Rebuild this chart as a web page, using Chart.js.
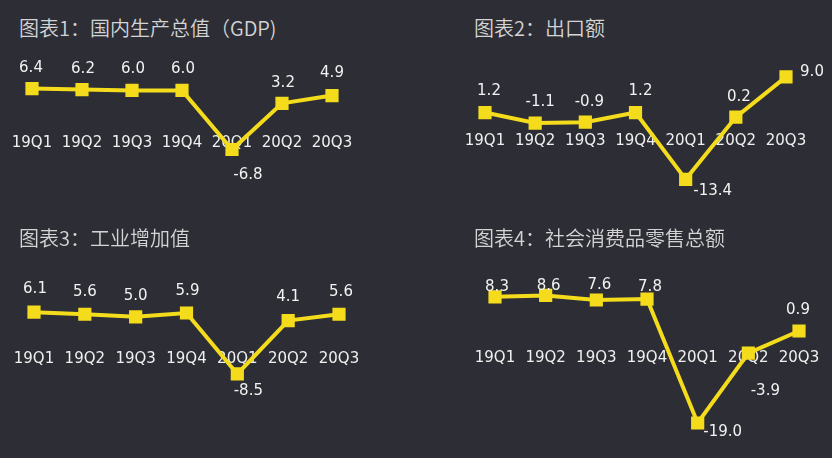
<!DOCTYPE html>
<html>
<head>
<meta charset="utf-8">
<script src="https://cdn.jsdelivr.net/npm/chart.js@4"></script>
<style>
  body { margin: 0; background: #2d2e35; width: 832px; height: 458px; overflow: hidden; position: relative; }
  .panel { position: absolute; width: 416px; height: 229px; }
  .panel canvas { position: absolute; left: 0; top: 0; }
  .title { position: absolute; font-family: "Noto Sans CJK SC"; font-weight: 350; font-size: 20px; line-height: 20px; color: #d4d4d4; white-space: nowrap; }
</style>
</head>
<body>
<div class="panel" style="left:0;top:0"><div class="title" style="left:19px;top:18px">图表1：国内生产总值（GDP)</div><canvas id="c1" width="416" height="229"></canvas></div>
<div class="panel" style="left:416px;top:0"><div class="title" style="left:58px;top:18px">图表2：出口额</div><canvas id="c2" width="416" height="229"></canvas></div>
<div class="panel" style="left:0;top:229px"><div class="title" style="left:19px;top:-1px">图表3：工业增加值</div><canvas id="c3" width="416" height="229"></canvas></div>
<div class="panel" style="left:416px;top:229px"><div class="title" style="left:58px;top:-1px">图表4：社会消费品零售总额</div><canvas id="c4" width="416" height="229"></canvas></div>
<script>
// quarters and growth rates (%)
const quarters = ['19Q1', '19Q2', '19Q3', '19Q4', '20Q1', '20Q2', '20Q3'];
const gdp = [6.4, 6.2, 6.0, 6.0, -6.8, 3.2, 4.9];
const exportsYoY = [1.2, -1.1, -0.9, 1.2, -13.4, 0.2, 9.0];
const industry = [6.1, 5.6, 5.0, 5.9, -8.5, 4.1, 5.6];
const retail = [8.3, 8.6, 7.6, 7.8, -19.0, -3.9, 0.9];

// where each value label sits relative to its point
const gdpLabelOffsets = [[-1, -21], [1, -20], [1, -21], [1, -21], [16, 26], [1, -20], [0, -22]];
const exportLabelOffsets = [[4, -21], [5, -21], [4, -20], [5, -21], [27, 12], [3, -20], [26, -5]];
const industryLabelOffsets = [[1, -23], [0, -22], [0, -21], [1, -22], [11, 17], [0, -23], [2, -22]];
const retailLabelOffsets = [[2, -10], [3, -9], [3, -15], [3, -12], [25, 9], [17, 38], [-1, -21]];

const valueLabels = {
  id: 'valueLabels',
  afterDatasetsDraw(chart, args, opts) {
    const ctx = chart.ctx;
    const meta = chart.getDatasetMeta(0);
    const values = chart.data.datasets[0].data;
    ctx.save();
    ctx.font = '15px "DejaVu Sans"';
    ctx.fillStyle = '#f2f2f2';
    ctx.textAlign = 'center';
    ctx.textBaseline = 'middle';
    meta.data.forEach((pt, i) => {
      const off = opts.offsets[i];
      ctx.fillText(values[i].toFixed(1), pt.x + off[0], pt.y + off[1]);
    });
    ctx.restore();
  }
};

function makeChart(id, values, offsets, left, right, min, max, tickPad) {
  return new Chart(document.getElementById(id), {
    type: 'line',
    data: {
      labels: quarters,
      datasets: [{
        data: values,
        borderColor: '#f4dc1c',
        backgroundColor: '#f4dc1c',
        borderWidth: 4,
        pointStyle: 'rect',
        pointRadius: 6.5,
        tension: 0,
        clip: false
      }]
    },
    options: {
      responsive: false,
      animation: false,
      layout: { padding: { left: left, right: 416 - right, top: 0, bottom: 0 } },
      plugins: {
        legend: { display: false },
        tooltip: { enabled: false },
        valueLabels: { offsets: offsets }
      },
      scales: {
        x: {
          position: { y: 0 },
          grid: { display: false, drawTicks: false },
          border: { display: false },
          ticks: {
            color: '#f0f0f0',
            font: { family: 'DejaVu Sans', size: 15 },
            padding: tickPad,
            maxRotation: 0,
            minRotation: 0,
            autoSkip: false
          },
          afterFit(s) { s.height = 0; s.paddingLeft = 0; s.paddingRight = 0; }
        },
        y: { display: false, min: min, max: max }
      }
    },
    plugins: [valueLabels]
  });
}

makeChart('c1', gdp, gdpLabelOffsets, 32, 332, -21.75, 23.33, 16);
makeChart('c2', exportsYoY, exportLabelOffsets, 69, 370, -21.95, 23.49, 14);
makeChart('c3', industry, industryLabelOffsets, 34, 339, -25.88, 23.26, 12);
makeChart('c4', retail, retailLabelOffsets, 79, 383, -24.3, 20.69, 14);
</script>
</body>
</html>
